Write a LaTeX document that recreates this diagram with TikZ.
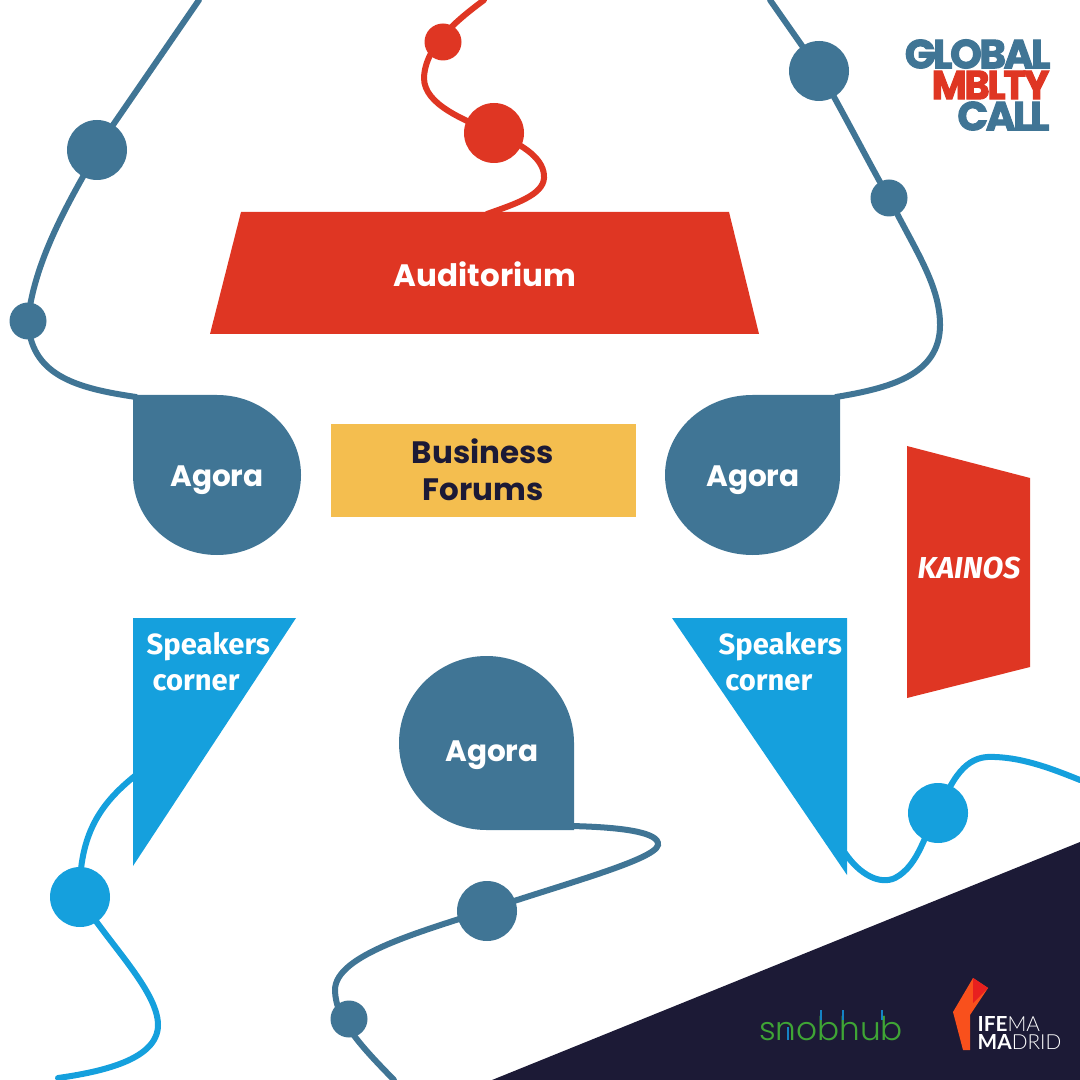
\documentclass[tikz,border=0pt]{standalone}
\usepackage{fontspec}
\setmainfont{Poppins}
\newfontfamily\narrowfont{Fira Sans}
\newfontfamily\logofont[LetterSpace=-6,FakeBold=2.5]{Poppins}
\newfontfamily\hubfont{Poppins Light}
\newfontfamily\thinfont[BoldFont={Lato Bold}]{Lato Light}
\definecolor{slateblue}{HTML}{407595}
\definecolor{zonered}{HTML}{DF3623}
\definecolor{skyblue}{HTML}{15A0DD}
\definecolor{forumyellow}{HTML}{F4BE4F}
\definecolor{nightblue}{HTML}{1C1A36}
\definecolor{hubgreen}{HTML}{3FA535}
\definecolor{hubblue}{HTML}{1583C4}
\definecolor{flameorange}{HTML}{F9501C}
\definecolor{flamered}{HTML}{E8201F}
\tikzset{
  zonelabel/.style={text=white,font=\bfseries\fontsize{8.4}{11}\selectfont,align=center},
  cornerlabel/.style={text=white,font=\narrowfont\bfseries\fontsize{8.3}{10.2}\selectfont,align=left,anchor=north west,inner sep=0pt},
  route/.style={line width=0.6mm,line cap=round},
  logoline/.style={font=\logofont\bfseries\fontsize{11.5}{11.5}\selectfont,inner sep=0pt},
  hubtick/.style={hubblue,line width=0.2mm}
}
\begin{document}
\begin{tikzpicture}[x=0.01cm,y=-0.01cm]
  \useasboundingbox (0,0) rectangle (1080,1080);
  \fill[nightblue] (1080,842) -- (1080,1080) -- (492,1080) -- cycle; %Dark corner

  %Routes behind the zones
  \draw[route,slateblue] (199,0) -- (113,125) .. controls (75,190) and (35,255) .. (28,320)
    .. controls (30,375) and (75,388) .. (136,397);
  \draw[route,slateblue] (770,0) -- (819,70) .. controls (850,125) and (870,165) .. (889,198)
    .. controls (915,250) and (940,285) .. (940,325) .. controls (940,375) and (890,388) .. (836,397);
  \draw[route,zonered] (484,0) .. controls (460,18) and (425,45) .. (424,78)
    .. controls (424,105) and (465,120) .. (494,133) .. controls (525,145) and (545,160) .. (544,178)
    .. controls (543,195) and (515,204) .. (487,214);
  \draw[route,skyblue] (136,775) .. controls (105,800) and (78,830) .. (80,897)
    .. controls (105,940) and (158,990) .. (158,1025) .. controls (158,1060) and (100,1072) .. (58,1078);
  \draw[route,slateblue] (570,826) .. controls (620,827) and (660,832) .. (658,845)
    .. controls (655,860) and (560,885) .. (487,910) .. controls (420,932) and (335,955) .. (335,990)
    .. controls (335,1020) and (365,1050) .. (394,1080);
  \draw[route,skyblue] (845,853) .. controls (860,875) and (880,885) .. (895,878)
    .. controls (920,865) and (925,830) .. (938,813) .. controls (955,770) and (970,755) .. (995,757)
    .. controls (1025,758) and (1055,770) .. (1080,780);

  %Zones
  \fill[zonered] (241,212) -- (729,212) -- (759,334) -- (210,334) -- cycle;
  \fill[zonered] (907,446) -- (1030,478) -- (1030,667) -- (907,698) -- cycle;
  \fill[forumyellow] (331,424) rectangle (636,517);
  \fill[skyblue] (133,618) -- (296,618) -- (133,866) -- cycle;
  \fill[skyblue] (672,618) -- (847,618) -- (847,875) -- cycle;
  \fill[slateblue] (133,395) -- (217,395) arc[start angle=-90,end angle=90,x radius=84,y radius=80]
    arc[start angle=90,end angle=180,x radius=84,y radius=80] -- cycle;
  \fill[slateblue] (840,395) -- (752.5,395) arc[start angle=270,end angle=90,x radius=87.5,y radius=80]
    arc[start angle=90,end angle=0,x radius=87.5,y radius=80] -- cycle;
  \fill[slateblue] (574,830) -- (486.5,830) arc[start angle=90,end angle=270,x radius=87.5,y radius=87]
    arc[start angle=270,end angle=360,x radius=87.5,y radius=87] -- cycle;

  %Stops on the routes
  \fill[slateblue] (97,150) circle (30);
  \fill[slateblue] (28,321) circle (18.5);
  \fill[slateblue] (819,71) circle (30);
  \fill[slateblue] (889,198) circle (18.5);
  \fill[zonered] (443,42) circle (18.5);
  \fill[zonered] (494,133) circle (30);
  \fill[skyblue] (80,897) circle (30);
  \fill[skyblue] (938,813) circle (30);
  \fill[slateblue] (487,911) circle (30);
  \fill[slateblue] (349,1019) circle (18.5);

  \node[zonelabel,font=\bfseries\fontsize{8.8}{11}\selectfont] (auditorium) at (485,274) {Auditorium};
  \node[text=nightblue,font=\bfseries\fontsize{8.8}{10.4}\selectfont,align=center] (forums) at (483,470) {Business\\Forums};
  \node[zonelabel] (agoraleft) at (217,480) {Agora};
  \node[zonelabel] (agoraright) at (753,480) {Agora};
  \node[zonelabel] (agorabottom) at (492,755) {Agora};
  \node[text=white,font=\narrowfont\bfseries\itshape\fontsize{8.6}{10}\selectfont] (kainos) at (969,568) {KAINOS};
  \node[cornerlabel] (speakersleft) at (146,632) {Speakers\\\hspace*{1.7pt}corner};
  \node[cornerlabel] (speakersright) at (718,632) {Speakers\\\hspace*{1.9pt}corner};

  %Logos
  \node[logoline,text=slateblue,anchor=east] (logoglobal) at (1051,54) {GLOBAL};
  \node[logoline,text=zonered,anchor=east] (logombly) at (1050,85) {\scalebox{0.945}[1]{MBLTY}};
  \node[logoline,text=slateblue,anchor=east] (logocall) at (1050,116) {CALL};
  \node[text=hubgreen,font=\hubfont\fontsize{9.3}{10}\selectfont,inner sep=0pt] (snobhub) at (831,1029) {snobhub};
  \draw[hubtick] (788,1027) -- (788,1040);
  \draw[hubtick] (821,1010) -- (821,1020);
  \draw[hubtick] (843,1010) -- (843,1020);
  \draw[hubtick] (882,1010) -- (882,1020);
  \fill[flameorange] (973,978) -- (988,988) -- (970,1015) -- (970,1050) -- (963,1050) -- (953,1012) -- cycle;
  \fill[flamered] (973,978) -- (988,988) -- (973,1003) -- cycle;
  \node[text=white,font=\thinfont\fontsize{5.9}{5.2}\selectfont,align=left,anchor=west,inner sep=0pt] (ifema) at (977,1033)
    {\textbf{IFE}MA\\\textbf{MA}DRID};
\end{tikzpicture}
\end{document}
